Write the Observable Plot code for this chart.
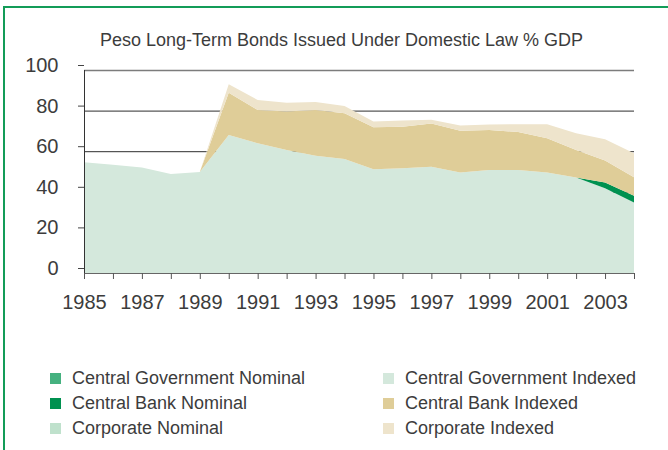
<!DOCTYPE html>
<html>
<head>
<meta charset="utf-8">
<script src="https://cdn.jsdelivr.net/npm/d3@7"></script>
<script src="https://cdn.jsdelivr.net/npm/@observablehq/plot@0.6"></script>
<style>
  html, body { margin: 0; padding: 0; background: #fff; }
  #page { position: relative; width: 668px; height: 450px; overflow: hidden; background: #fff;
          font-family: "Liberation Sans", Arial, sans-serif; color: #3c3c3c; }
  #frame { position: absolute; left: 3px; top: 6px; width: 720px; height: 500px;
           border-left: 2px solid #139c58; border-top: 2px solid #139c58; }
  #title { position: absolute; left: 0; width: 683px; top: 29px; text-align: center;
           font-size: 18px; line-height: 22px; white-space: nowrap; }
  #chart { position: absolute; left: 0; top: 0; }
  #chart svg { background: transparent; }
  .legend { position: absolute; font-size: 18px; line-height: 25px; white-space: nowrap; }
  .legend div { display: flex; align-items: center; height: 25px; }
  .legend span.sw { display: inline-block; width: 11px; height: 11px; margin-right: 11px; }
</style>
</head>
<body>
<div id="page">
  <div id="frame"></div>
  <div id="title">Peso Long-Term Bonds Issued Under Domestic Law % GDP</div>
  <div id="chart"></div>
  <div class="legend" id="legendLeft" style="left:50px; top:366px;"></div>
  <div class="legend" id="legendRight" style="left:383px; top:366px;"></div>
</div>
<script>
// Years on the horizontal axis
const years = [1985, 1986, 1987, 1988, 1989, 1990, 1991, 1992, 1993, 1994,
               1995, 1996, 1997, 1998, 1999, 2000, 2001, 2002, 2003, 2004];
const yearLabels = [1985, 1987, 1989, 1991, 1993, 1995, 1997, 1999, 2001, 2003];
const yTicks = [0, 20, 40, 60, 80, 100];

// Series names, in stacking / legend order
const seriesNames = [
  "Central Government Nominal", "Central Government Indexed",
  "Central Bank Nominal", "Central Bank Indexed",
  "Corporate Nominal", "Corporate Indexed"
];
const seriesColors = ["#45b17f", "#d4e8dc", "#009150", "#dfcd98", "#bfe1cc", "#eee4cc"];

// Outstanding amounts, % of GDP
const centralGovNominal = [0, 0, 0, 0, 0, 0, 0, 0, 0, 0, 0, 0, 0, 0, 0, 0, 0, 0, 0, 0];
const centralGovIndexed = [54.6, 53.3, 52.0, 48.8, 49.7, 68.0, 63.9, 60.6, 57.7, 56.1,
                           51.1, 51.6, 52.4, 49.5, 50.8, 50.8, 49.5, 47.0, 41.8, 34.7];
const centralBankNominal = [0, 0, 0, 0, 0, 0, 0, 0, 0, 0, 0, 0, 0, 0, 0, 0, 0, 0, 2.8, 3.3];
const centralBankIndexed = [0, 0, 0, 0, 0, 20.8, 16.4, 18.9, 22.6, 22.6,
                            20.7, 20.5, 21.2, 20.6, 19.7, 18.6, 16.9, 13.6, 10.8, 9.2];
const corporateNominal = [0, 0, 0, 0, 0, 0, 0, 0, 0, 0, 0, 0, 0, 0, 0, 0, 0, 0, 0, 0];
const corporateIndexed = [0, 0, 0, 0, 0, 4.2, 4.9, 4.4, 3.9, 3.6,
                          2.8, 3.0, 1.9, 2.5, 2.6, 3.9, 6.9, 8.3, 10.5, 11.8];

const seriesValues = [centralGovNominal, centralGovIndexed, centralBankNominal,
                      centralBankIndexed, corporateNominal, corporateIndexed];

// Long table for the stacked areas (all-zero series contribute nothing visible)
const rows = [];
seriesNames.forEach((name, i) => {
  if (d3.max(seriesValues[i]) === 0) return;
  years.forEach((year, j) => rows.push({year, series: name, value: seriesValues[i][j]}));
});

const chart = Plot.plot({
  width: 668,
  height: 330,
  marginTop: 70,
  marginBottom: 57,
  marginLeft: 84,
  marginRight: 34,
  style: {fontFamily: "'Liberation Sans', Arial, sans-serif", fontSize: "20px", color: "#3c3c3c", background: "transparent"},
  x: {domain: [1985, 2004]},
  y: {domain: [0, 100]},
  color: {domain: seriesNames, range: seriesColors},
  marks: [
    Plot.ruleY([20, 40, 60, 80], {stroke: "#2e2e2e", strokeWidth: 1}),
    Plot.ruleY([100], {stroke: "#7c7c7c", strokeWidth: 1.5}),
    Plot.areaY(rows, Plot.stackY({
      x: "year", y: "value", fill: "series", z: "series", order: seriesNames
    })),
    Plot.ruleX([1985], {y1: 0, y2: 100, stroke: "#333"}),
    Plot.ruleY([0], {stroke: "#666"}),
    Plot.axisY({ticks: yTicks, tickSize: 6, tickPadding: 20, dy: -5, stroke: "#444",
                fill: "#3c3c3c", fontSize: 20, label: null}),
    Plot.axisX({ticks: years, tickSize: 6, tickFormat: () => "", stroke: "#555", label: null}),
    Plot.axisX({ticks: yearLabels, tickSize: 0, tickPadding: 21, tickFormat: d => String(d),
                fill: "#3c3c3c", fontSize: 20, label: null})
  ]
});
document.getElementById("chart").appendChild(chart);

// Two-column legend, row-major in series order
const left = document.getElementById("legendLeft");
const right = document.getElementById("legendRight");
seriesNames.forEach((name, i) => {
  const item = document.createElement("div");
  const sw = document.createElement("span");
  sw.className = "sw";
  sw.style.background = seriesColors[i];
  item.appendChild(sw);
  item.appendChild(document.createTextNode(name));
  (i % 2 === 0 ? left : right).appendChild(item);
});
</script>
</body>
</html>
